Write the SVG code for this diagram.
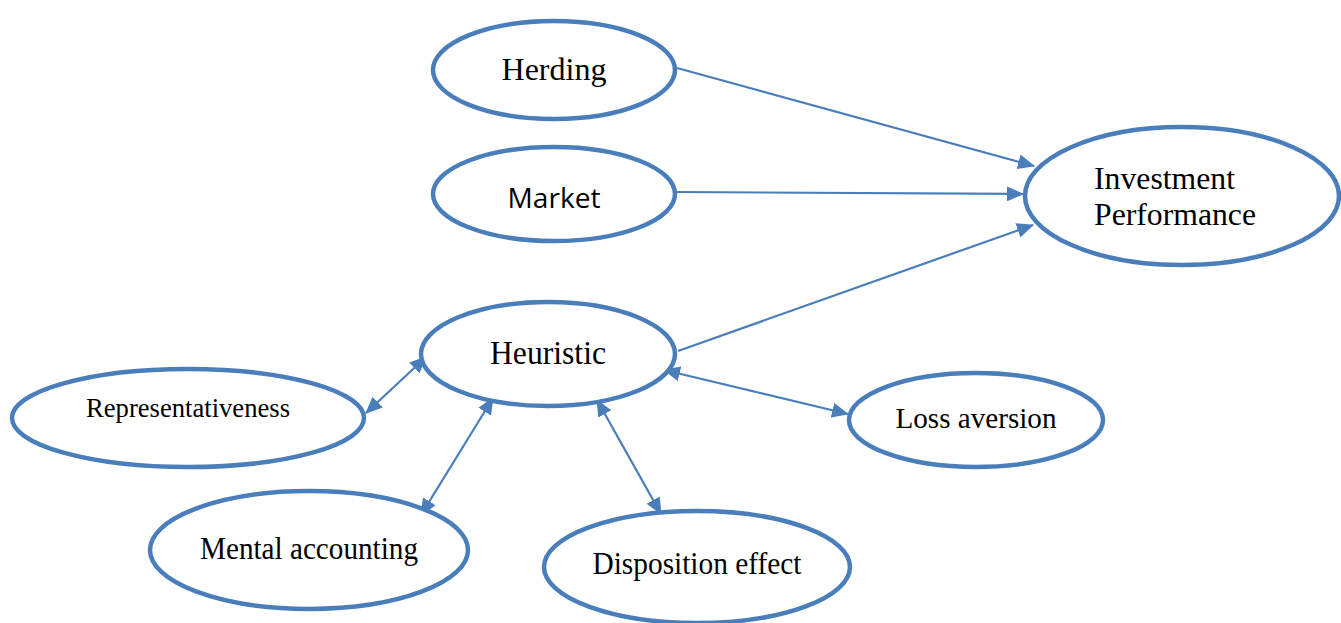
<svg xmlns="http://www.w3.org/2000/svg" width="1341" height="623" viewBox="0 0 1341 623">
<defs>
<style>
.n{fill:#fff;stroke:#4a7ebb;stroke-width:4.5}
.t{font-family:"Liberation Serif","Times New Roman",serif;fill:#000;text-anchor:middle}
.s{font-family:"Open Sans","Noto Sans","Liberation Sans",sans-serif;fill:#000;text-anchor:middle}
.l{text-anchor:start}
.c{stroke:#4a7ebb;stroke-width:2.2;fill:none}
</style>
<marker id="ah" markerWidth="17" markerHeight="15" refX="16" refY="7.5" orient="auto-start-reverse" markerUnits="userSpaceOnUse">
<path d="M0,0 L17,7.5 L0,15 Z" fill="#4a7ebb"/>
</marker>
</defs>
<rect width="1341" height="623" fill="#fff"/>
<g id="connectors">
<line class="c" x1="677" y1="68" x2="1034" y2="166" marker-end="url(#ah)"/>
<line class="c" x1="676" y1="192" x2="1023" y2="194" marker-end="url(#ah)"/>
<line class="c" x1="678" y1="351" x2="1033" y2="225" marker-end="url(#ah)"/>
<line class="c" x1="426" y1="357" x2="366" y2="413" marker-start="url(#ah)" marker-end="url(#ah)"/>
<line class="c" x1="493" y1="398" x2="421" y2="515" marker-start="url(#ah)" marker-end="url(#ah)"/>
<line class="c" x1="597" y1="400" x2="661" y2="514" marker-start="url(#ah)" marker-end="url(#ah)"/>
<line class="c" x1="664" y1="370" x2="848" y2="414" marker-start="url(#ah)" marker-end="url(#ah)"/>
</g>
<g id="herding">
<ellipse class="n" cx="554" cy="70" rx="121" ry="49"/>
<text class="t" x="554" y="80" font-size="32" textLength="105" lengthAdjust="spacingAndGlyphs">Herding</text>
</g>
<g id="market">
<ellipse class="n" cx="554" cy="194" rx="121" ry="47"/>
<text class="s" x="554" y="208" font-size="28" textLength="93" lengthAdjust="spacingAndGlyphs">Market</text>
</g>
<g id="investment-performance">
<ellipse class="n" cx="1182" cy="196" rx="157" ry="69"/>
<text class="t l" x="1094" y="189" font-size="32" textLength="141" lengthAdjust="spacingAndGlyphs">Investment</text>
<text class="t l" x="1094" y="225" font-size="32" textLength="162" lengthAdjust="spacingAndGlyphs">Performance</text>
</g>
<g id="heuristic">
<ellipse class="n" cx="548" cy="354" rx="127" ry="52"/>
<text class="t" x="548" y="364" font-size="33" textLength="116" lengthAdjust="spacingAndGlyphs">Heuristic</text>
</g>
<g id="representativeness">
<ellipse class="n" cx="188" cy="418" rx="176" ry="49"/>
<text class="t" x="188" y="417" font-size="27" textLength="204" lengthAdjust="spacingAndGlyphs">Representativeness</text>
</g>
<g id="loss-aversion">
<ellipse class="n" cx="976" cy="420" rx="127" ry="47"/>
<text class="t" x="976" y="428" font-size="30" textLength="161" lengthAdjust="spacingAndGlyphs">Loss aversion</text>
</g>
<g id="mental-accounting">
<ellipse class="n" cx="309" cy="550" rx="159" ry="59"/>
<text class="t" x="309" y="559" font-size="31" textLength="218" lengthAdjust="spacingAndGlyphs">Mental accounting</text>
</g>
<g id="disposition-effect">
<ellipse class="n" cx="697" cy="567" rx="153" ry="56"/>
<text class="t" x="697" y="574" font-size="31" textLength="209" lengthAdjust="spacingAndGlyphs">Disposition effect</text>
</g>
</svg>
